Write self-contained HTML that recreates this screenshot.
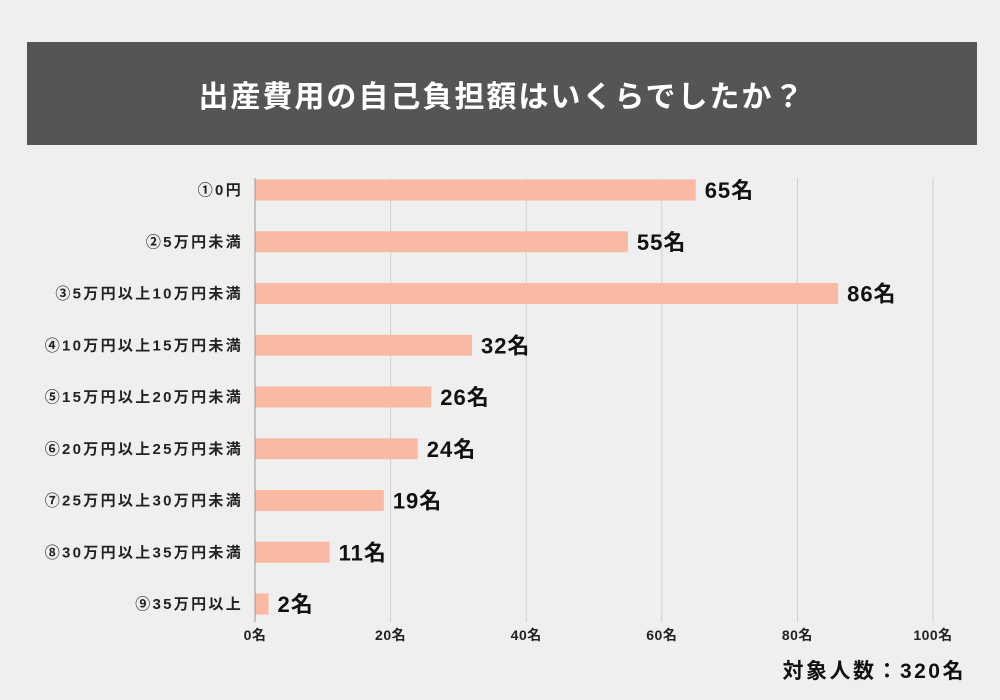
<!DOCTYPE html>
<html><head><meta charset="utf-8"><style>
body{margin:0;width:1000px;height:700px;background:#efefef;overflow:hidden;font-family:"Liberation Sans","Noto Sans CJK JP",sans-serif;}
#title{position:absolute;left:27px;top:42px;width:950px;height:103px;background:#555555;color:#fff;font-weight:bold;font-size:30px;display:flex;align-items:center;justify-content:center;letter-spacing:2px;}
</style></head><body>
<div id="title">出産費用の自己負担額はいくらでしたか？</div>
<svg id="chart" width="1000" height="700" style="position:absolute;left:0;top:0"></svg>
<script>
const categories=["①0円","②5万円未満","③5万円以上10万円未満","④10万円以上15万円未満","⑤15万円以上20万円未満","⑥20万円以上25万円未満","⑦25万円以上30万円未満","⑧30万円以上35万円未満","⑨35万円以上"];
const values=[65,55,86,32,26,24,19,11,2];
const ticks=[0,20,40,60,80,100];
const tickLabels=["0名","20名","40名","60名","80名","100名"];
const NS="http://www.w3.org/2000/svg";
const svg=document.getElementById('chart');
const x0=255,x1=933,yTop=178,yBot=622;
const xs=v=>x0+(x1-x0)*v/100;
const rowH=(604-190)/8;
const ys=i=>190+i*rowH;
function mk(t,a,txt){const e=document.createElementNS(NS,t);for(const k in a)e.setAttribute(k,a[k]);if(txt!=null)e.textContent=txt;svg.appendChild(e);return e;}
ticks.forEach((t,i)=>{
 if(i>0){const g=mk('line',{x1:xs(t),x2:xs(t),y1:yTop,y2:yBot,stroke:'#d0d0d0','stroke-width':1});
 
 }
 const l=mk('text',{x:xs(t),y:640,'text-anchor':'middle','font-size':14,'font-weight':'bold','letter-spacing':0.5,fill:'#222'},tickLabels[i]);
 
 
});
values.forEach((v,i)=>{
 const y=ys(i);
 const b=mk('rect',{x:x0,y:y-10.5,width:xs(v)-x0,height:21,fill:'#f9b9a3'});
 
 
 const c=mk('text',{x:243,y:y+5,'text-anchor':'end','font-size':15,'font-weight':'bold','letter-spacing':2.3,fill:'#222'},categories[i]);
 
 
 const vl=mk('text',{x:xs(v)+9,y:y+8,'font-size':22,'font-weight':'bold','letter-spacing':1,fill:'#111'},v+'名');
 
 
});
const ax=mk('line',{x1:x0,x2:x0,y1:yTop,y2:yBot,stroke:'#999','stroke-width':1});


const f=mk('text',{x:966,y:678,'text-anchor':'end','font-size':21,'font-weight':'bold','letter-spacing':2.5,fill:'#111'},'対象人数：320名');


</script>
</body></html>
